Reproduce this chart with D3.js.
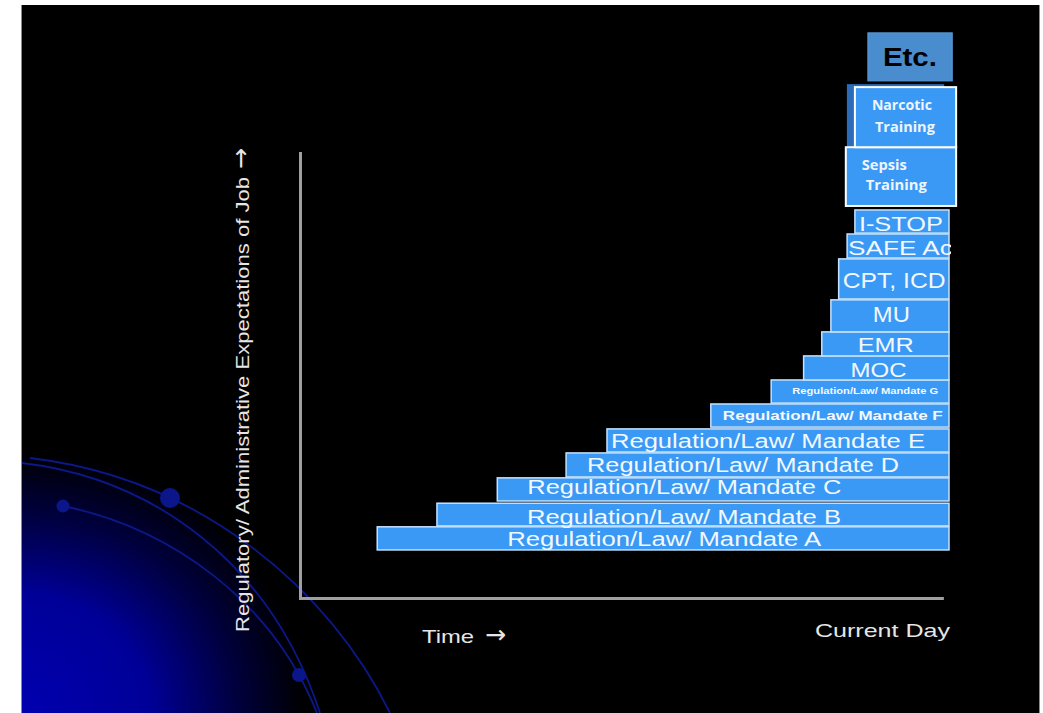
<!DOCTYPE html>
<html>
<head>
<meta charset="utf-8">
<script src="https://cdn.jsdelivr.net/npm/d3@7"></script>
<style>
  html, body { margin: 0; padding: 0; background: #ffffff; }
  svg { display: block; }
</style>
</head>
<body>
<svg id="chart" width="1043" height="713"></svg>
<script>
// Expectations added over time: each block starts at the time it appeared
// and runs to the current day; stacked upward by level of expectation.
const labels = [
  "Regulation/Law/ Mandate A",
  "Regulation/Law/ Mandate B",
  "Regulation/Law/ Mandate C",
  "Regulation/Law/ Mandate D",
  "Regulation/Law/ Mandate E",
  "Regulation/Law/ Mandate F",
  "Regulation/Law/ Mandate G",
  "MOC",
  "EMR",
  "MU",
  "CPT, ICD",
  "SAFE Act",
  "I-STOP",
  "Sepsis|Training",
  "Narcotic|Training",
  "Etc."
];
// time each item began (0 = origin, 100 = current day)
const startTime = [11.9, 21.1, 30.4, 41.0, 47.3, 63.3, 72.6, 77.6, 80.4, 81.8, 83.0, 84.3, 85.5, 84.1, 85.5, 87.5];
const endTime   = [100, 100, 100, 100, 100, 100, 100, 100, 100, 100, 100, 100, 100, 101.1, 101.1, 100.5];
// lower and upper level of each block on the expectations axis
const levelLow  = [10.8, 16.2, 21.8, 27.2, 32.8, 38.4, 43.8, 49.0, 54.4, 59.8, 67.2, 76.4, 82.0, 88.1, 101.3, 116.2];
const levelHigh = [16.0, 21.3, 27.0, 32.6, 38.0, 43.6, 49.0, 54.4, 59.8, 67.0, 76.2, 81.8, 87.2, 101.3, 114.8, 127.0];

const axisTitleY = "Regulatory/ Administrative Expectations of Job";
const axisTitleX = "Time";
const axisEndLabel = "Current Day";
const arrow = "\u2192";

const svg = d3.select("#chart");

// slide frame
const slide = { x0: 21, y0: 5, x1: 1040, y1: 713 };

const x = d3.scaleLinear().domain([0, 100]).range([300, 949]);
const y = d3.scaleLinear().domain([0, 100]).range([598, 153]);

const defs = svg.append("defs");

const glow = defs.append("radialGradient")
  .attr("id", "cornerGlow")
  .attr("gradientUnits", "userSpaceOnUse")
  .attr("cx", slide.x0).attr("cy", slide.y1).attr("r", 285)
  .attr("gradientTransform", `translate(${slide.x0},${slide.y1}) scale(1.0,0.92) translate(${-slide.x0},${-slide.y1})`);
glow.append("stop").attr("offset", "0%").attr("stop-color", "#0000b0");
glow.append("stop").attr("offset", "45%").attr("stop-color", "#000098");
glow.append("stop").attr("offset", "75%").attr("stop-color", "#000040");
glow.append("stop").attr("offset", "100%").attr("stop-color", "#000000");

defs.append("clipPath").attr("id", "slideClip")
  .append("rect")
  .attr("x", slide.x0).attr("y", slide.y0)
  .attr("width", slide.x1 - slide.x0).attr("height", slide.y1 - slide.y0);

// slide background
svg.append("rect")
  .attr("x", slide.x0).attr("y", slide.y0)
  .attr("width", slide.x1 - slide.x0).attr("height", slide.y1 - slide.y0)
  .attr("fill", "#000000");
svg.append("line").attr("x1", slide.x0 + 0.5).attr("x2", slide.x0 + 0.5)
  .attr("y1", slide.y0).attr("y2", slide.y1).attr("stroke", "#8a8a8a").attr("stroke-width", 1);
svg.append("line").attr("x1", slide.x1 - 0.5).attr("x2", slide.x1 - 0.5)
  .attr("y1", slide.y0).attr("y2", slide.y1).attr("stroke", "#8a8a8a").attr("stroke-width", 1);

// decorative corner: blue glow with swept orbit lines
const deco = svg.append("g").attr("clip-path", "url(#slideClip)");
deco.append("rect")
  .attr("x", slide.x0 + 1).attr("y", 380)
  .attr("width", 420).attr("height", slide.y1 - 380)
  .attr("fill", "url(#cornerGlow)");

const orbitColor = "#0b1888";
const orbits = [
  "M 30,458 C 200,478 330,590 390,713",
  "M 22,463 C 150,478 270,560 320,713",
  "M 63,506 C 170,528 272,600 317,713"
];
deco.selectAll("path.orbit").data(orbits).join("path")
  .attr("class", "orbit")
  .attr("d", d => d)
  .attr("fill", "none")
  .attr("stroke", orbitColor)
  .attr("stroke-width", 1.8);
const orbitDots = [[170, 498, 10], [63, 506, 6.5], [299, 675, 7]];
deco.selectAll("circle.dot").data(orbitDots).join("circle")
  .attr("class", "dot")
  .attr("cx", d => d[0]).attr("cy", d => d[1]).attr("r", d => d[2])
  .attr("fill", "#0a168a");

// axes (plain lines, no ticks)
const axisColor = "#a0a0a0";
const yAxis = d3.axisLeft(y).tickValues([]).tickSizeOuter(0);
const xAxisScale = d3.scaleLinear().domain([0, 98.9]).range([x(0), x(98.9)]);
const xAxis = d3.axisBottom(xAxisScale).tickValues([]).tickSizeOuter(0);
const gy = svg.append("g").attr("transform", `translate(${x(0)},0)`).call(yAxis);
const gx = svg.append("g").attr("transform", `translate(0,${y(0)})`).call(xAxis);
[gy, gx].forEach(g => g.select(".domain")
  .attr("stroke", axisColor).attr("stroke-width", 3).attr("stroke-linecap", "square"));

// axis titles, each with a trailing arrow
const titleFont = "'Liberation Sans', Arial, sans-serif";
const arrowFont = "'DejaVu Sans', sans-serif";
function titled(sel, text, len, arrowGap) {
  sel.attr("font-family", titleFont).attr("font-size", 19).attr("fill", "#e6e6e6");
  sel.append("tspan")
    .attr("textLength", len).attr("lengthAdjust", "spacingAndGlyphs")
    .text(text);
  sel.append("tspan")
    .attr("dx", arrowGap)
    .attr("font-family", arrowFont).attr("font-size", 25)
    .text(arrow);
}
titled(svg.append("text").attr("transform", "translate(249,632) rotate(-90)"), axisTitleY, 455, 8);
titled(svg.append("text").attr("x", 422).attr("y", 643), axisTitleX, 52, 11);
svg.append("text")
  .attr("x", 815).attr("y", 637)
  .attr("font-family", titleFont).attr("font-size", 19)
  .attr("fill", "#e6e6e6")
  .attr("textLength", 135).attr("lengthAdjust", "spacingAndGlyphs")
  .text(axisEndLabel);

// block appearance and label placement (offsets in px from the block's left edge / bottom)
const blockStyle = i => {
  const base = { fill: "#3a99f4", stroke: "#c4e2ff", sw: 1.5, weight: "normal", color: "#f2f8ff", anchor: "middle" };
  if (i <= 4) return { ...base, size: 20,
    dx: [287, 247, 187, 177, 161][i], dy: [-4, -2, -7, -5, -4][i], len: [314, 314, 314, 312, 314][i] };
  if (i === 5) return { ...base, size: 12, weight: "bold", dx: 122, dy: -7, len: 220 };
  if (i === 6) return { ...base, size: 8.5, weight: "bold", dx: 94, dy: -9, len: 146 };
  if (i === 7) return { ...base, size: 21, dx: 75, dy: -3, len: 56 };
  if (i === 8) return { ...base, size: 21, dx: 64, dy: -4, len: 56 };
  if (i === 9) return { ...base, size: 22, dx: 60.5, dy: -10, len: 37 };
  if (i === 10) return { ...base, size: 22, dx: 55.5, dy: -11, len: 103 };
  if (i === 11) return { ...base, size: 21, anchor: "start", dx: 1, dy: -3, len: 112, clip: true };
  if (i === 12) return { ...base, size: 21, dx: 46, dy: -2, len: 84 };
  if (i === 13) return { ...base, stroke: "#ffffff", sw: 2, size: 15, weight: "bold", color: "#eef5ff", anchor: "start",
    font: "'Open Sans', 'Noto Sans', sans-serif",
    lines: [{ dx: 16, dy: -36, len: 45 }, { dx: 20, dy: -16, len: 61 }] };
  if (i === 14) return { ...base, stroke: "#ffffff", sw: 2, size: 15, weight: "bold", color: "#eef5ff", anchor: "start",
    font: "'Open Sans', 'Noto Sans', sans-serif",
    lines: [{ dx: 17, dy: -37, len: 60 }, { dx: 20, dy: -15.5, len: 60 }], shadow: true };
  return { fill: "#4a8dcf", stroke: "#5a9ad8", sw: 1, size: 26, weight: "bold", color: "#000000", anchor: "start", dx: 15, dy: -15, len: 54 };
};

const blocks = labels.map((label, i) => ({
  label, i,
  x0: x(startTime[i]), x1: x(endTime[i]),
  yTop: y(levelHigh[i]), yBot: y(levelLow[i]),
  style: blockStyle(i)
}));

const g = svg.append("g");

// shadowed card behind the narcotic block
blocks.filter(b => b.style.shadow).forEach(b => {
  g.append("rect")
    .attr("x", b.x0 - 8).attr("y", b.yTop - 3)
    .attr("width", b.x1 - b.x0 - 4).attr("height", b.yBot - b.yTop + 3)
    .attr("fill", "#2a6cb8");
});

blocks.forEach(b => {
  const s = b.style;
  g.append("rect")
    .attr("x", b.x0).attr("y", b.yTop)
    .attr("width", b.x1 - b.x0).attr("height", b.yBot - b.yTop)
    .attr("fill", s.fill)
    .attr("stroke", s.stroke).attr("stroke-width", s.sw);

  let holder = g;
  if (s.clip) {
    const id = "clip" + b.i;
    defs.append("clipPath").attr("id", id).append("rect")
      .attr("x", b.x0).attr("y", b.yTop - 4)
      .attr("width", b.x1 - b.x0 + 2).attr("height", b.yBot - b.yTop + 8);
    holder = g.append("g").attr("clip-path", `url(#${id})`);
  }
  const font = s.font || titleFont;
  const put = (text, dx, dy, len) => holder.append("text")
    .attr("x", b.x0 + dx).attr("y", b.yBot + dy)
    .attr("font-family", font).attr("font-size", s.size).attr("font-weight", s.weight)
    .attr("fill", s.color).attr("text-anchor", s.anchor)
    .attr("textLength", len).attr("lengthAdjust", "spacingAndGlyphs")
    .text(text);
  if (s.lines) {
    b.label.split("|").forEach((line, k) => put(line, s.lines[k].dx, s.lines[k].dy, s.lines[k].len));
  } else {
    put(b.label, s.dx, s.dy, s.len);
  }
});
</script>
</body>
</html>
